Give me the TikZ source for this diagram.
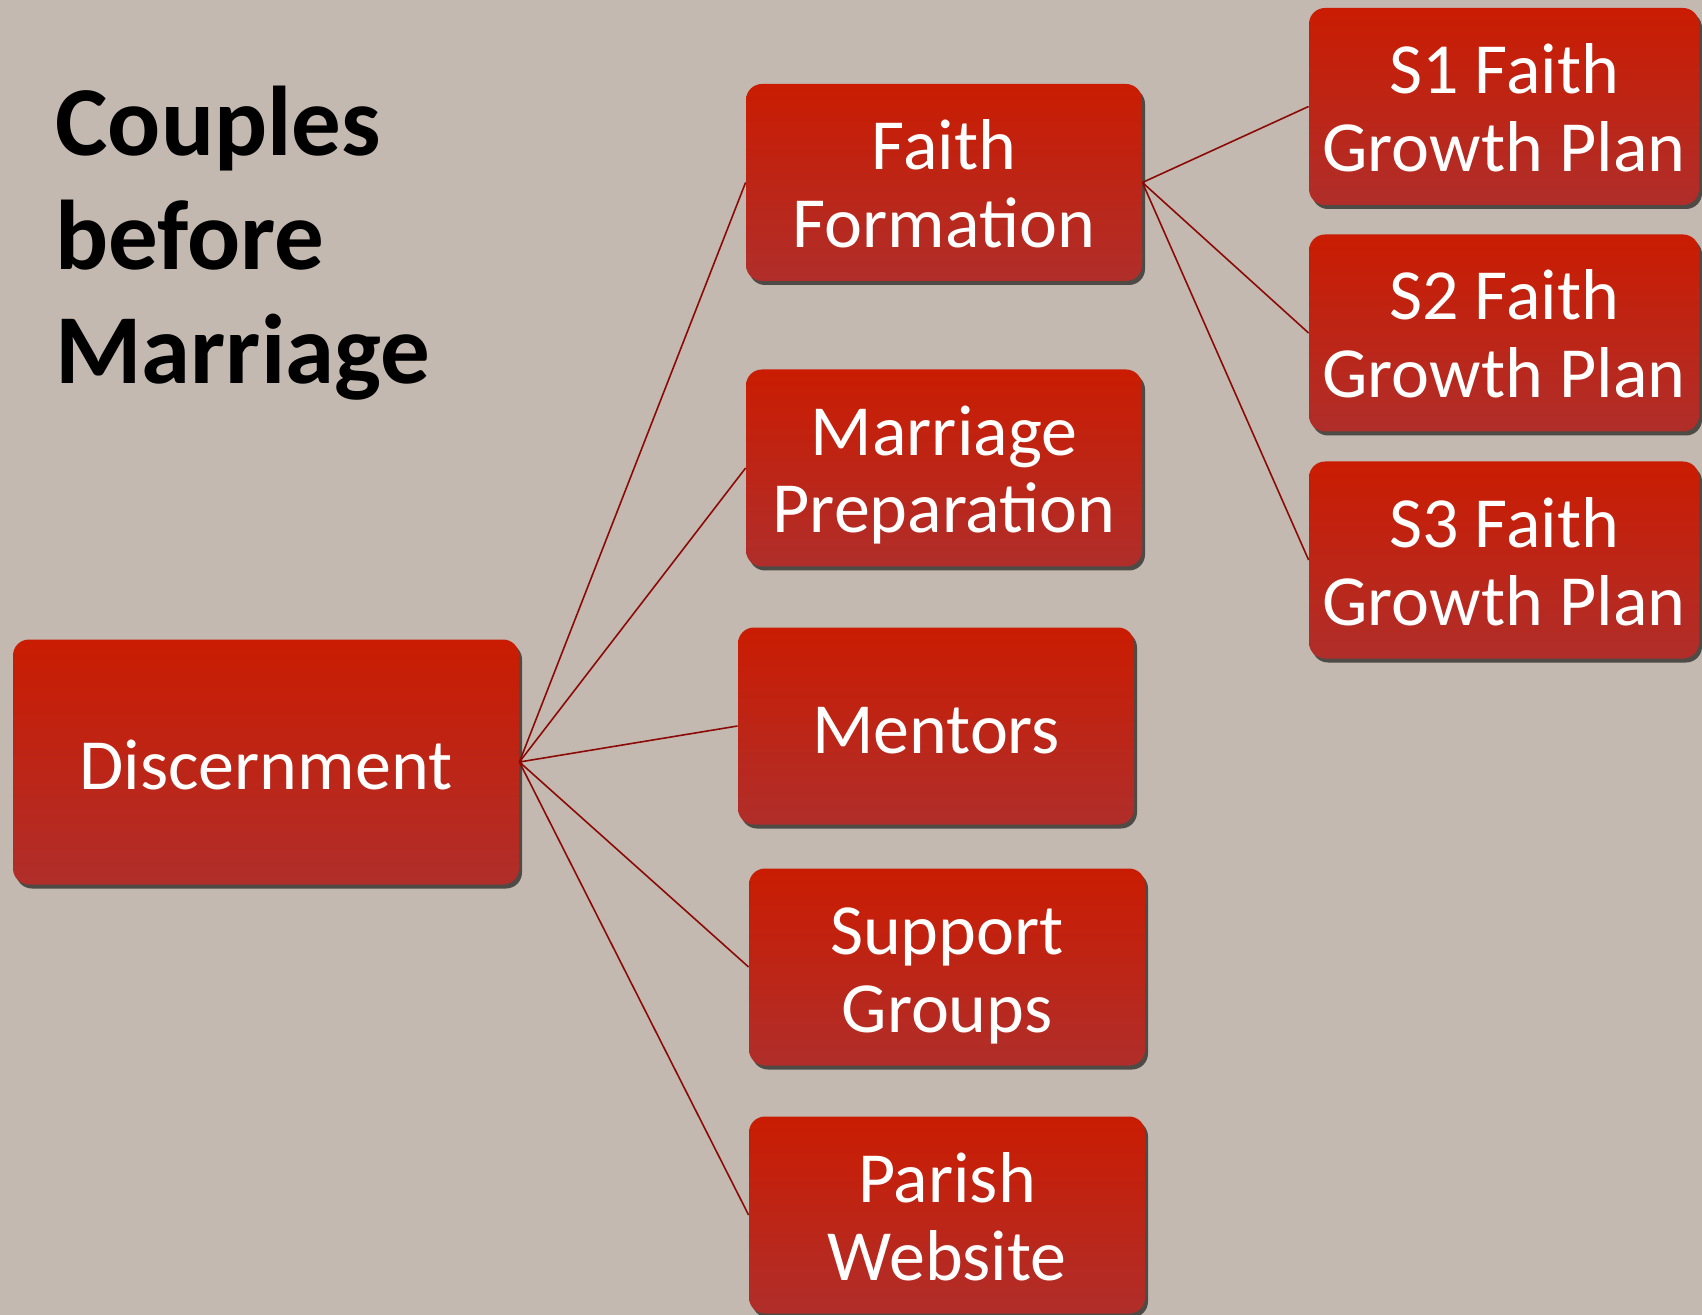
\documentclass[tikz,border=0pt]{standalone}
\usepackage{fontspec}
\setmainfont{Carlito}
\usetikzlibrary{shadows}
\definecolor{bgcol}{RGB}{195,185,176}
\definecolor{boxtop}{RGB}{202,28,2}
\definecolor{boxbot}{RGB}{176,46,42}
\definecolor{linecol}{RGB}{140,10,5}
\tikzset{
  redbox/.style={rounded corners=8pt, top color=boxtop, bottom color=boxbot,
    draw=none, text=white, align=center, minimum width=198pt, minimum height=98.5pt,
    inner sep=0pt, text depth=0pt, text height=65pt,
    font=\fontsize{36}{39}\selectfont,
    drop shadow={shadow xshift=1.5pt, shadow yshift=-2pt, opacity=0.6, fill=black}},
  oneline/.style={text height=27pt},
  link/.style={draw=linecol, line width=0.8pt},
  titletext/.style={align=left, font=\bfseries\fontsize{49.5}{57}\selectfont, text=black, inner sep=0pt}
}
\begin{document}
\begin{tikzpicture}[x=0.5pt, y=-0.5pt]
\fill[bgcol] (0,0) rectangle (1702,1315);
\useasboundingbox (0,0) rectangle (1702,1315);
\node[titletext, anchor=north west] (title) at (55,86) {Couples\\before\\Marriage};
\node[redbox, oneline, minimum width=253pt, minimum height=122.5pt] (disc) at (266,762) {Discernment};
\node[redbox] (ff) at (944,182.5) {Faith\\Formation};
\node[redbox] (mp) at (944,468) {Marriage\\Preparation};
\node[redbox, oneline] (men) at (936,726) {Mentors};
\node[redbox] (sg) at (947,967) {Support\\Groups};
\node[redbox] (pw) at (947,1215) {Parish\\Website};
\node[redbox, minimum width=195pt] (s1) at (1504,106.5) {S1 Faith\\Growth Plan};
\node[redbox, minimum width=195pt] (s2) at (1504,333) {S2 Faith\\Growth Plan};
\node[redbox, minimum width=195pt] (s3) at (1504,560) {S3 Faith\\Growth Plan};
\foreach \t in {ff,mp,men,sg,pw} \draw[link] (disc.east) -- (\t.west);
\foreach \t in {s1,s2,s3} \draw[link] (ff.east) -- (\t.west);
\end{tikzpicture}
\end{document}
